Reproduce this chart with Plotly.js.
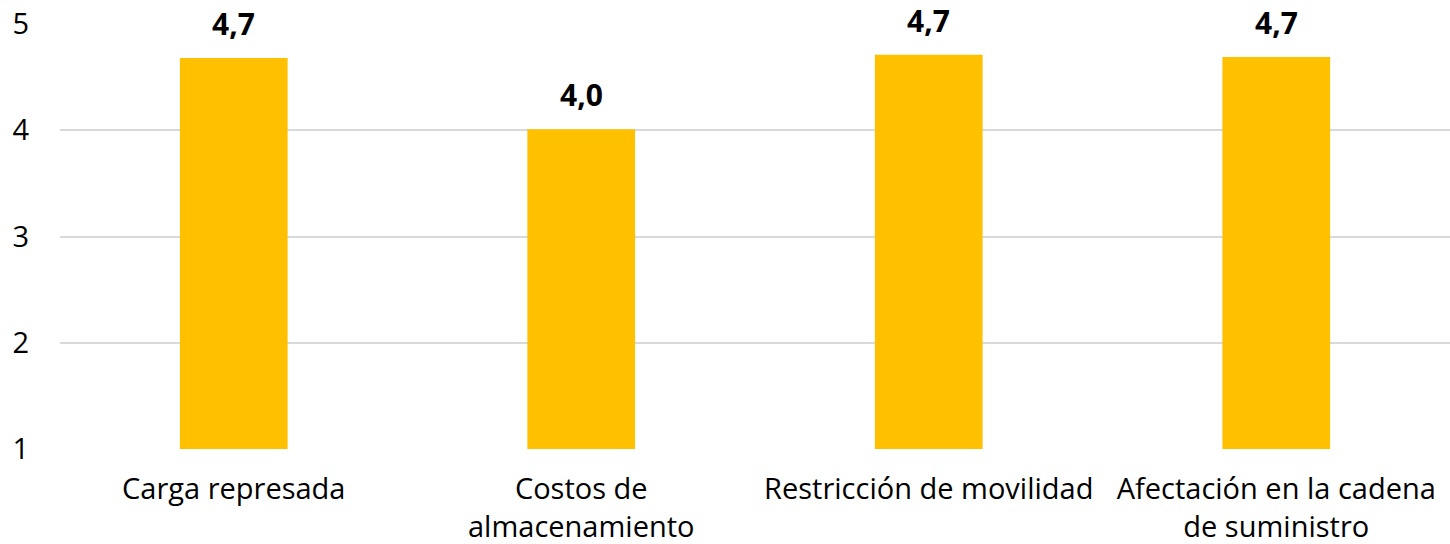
<!DOCTYPE html>
<html>
<head>
<meta charset="utf-8">
<script src="https://cdn.plot.ly/plotly-3.0.1.min.js"></script>
<style>html,body{margin:0;padding:0;background:#fff;}#chart{width:1450px;height:544px;}</style>
</head>
<body>
<div id="chart"></div>
<script>
var categories = ["Carga represada", "Costos de<br>almacenamiento", "Restricción de movilidad", "Afectación en la cadena<br>de suministro"];
var values = [4.68, 4.01, 4.71, 4.69];
var tickVals = [1, 2, 3, 4, 5];

var fontFam = "'Open Sans', 'Noto Sans', sans-serif";

var annotations = categories.map(function (c, i) {
  return {
    x: c, y: values[i], xref: 'x', yref: 'y',
    text: values[i].toFixed(1).replace('.', ','),
    showarrow: false, yanchor: 'bottom', yshift: 12,
    font: {family: fontFam, size: 30, color: '#000000', weight: 'bold'}
  };
});

var trace = {
  type: 'bar',
  x: categories,
  base: 1,
  marker: {color: '#FFC000'},
  width: 0.31,
  hoverinfo: 'none'
};
trace.y = values.map(function (v) { return v - 1; });

var layout = {
  width: 1450, height: 544,
  margin: {l: 60, r: 0, t: 24, b: 95},
  paper_bgcolor: '#ffffff', plot_bgcolor: '#ffffff',
  showlegend: false,
  font: {family: fontFam, size: 29, color: '#000000'},
  xaxis: {
    type: 'category',
    showgrid: false, zeroline: false, showline: false,
    ticks: '', ticklabelstandoff: 20,
    tickfont: {family: fontFam, size: 29, color: '#000000'}
  },
  yaxis: {
    range: [1, 5], tickvals: tickVals, ticktext: tickVals.map(String),
    showgrid: true, gridcolor: '#d9d9d9', gridwidth: 2,
    zeroline: false, showline: false, ticks: '',
    ticklabelstandoff: 30,
    tickfont: {family: fontFam, size: 29, color: '#000000'}
  },
  annotations: annotations
};

Plotly.newPlot('chart', [trace], layout, {displayModeBar: false, staticPlot: true});
</script>
</body>
</html>
